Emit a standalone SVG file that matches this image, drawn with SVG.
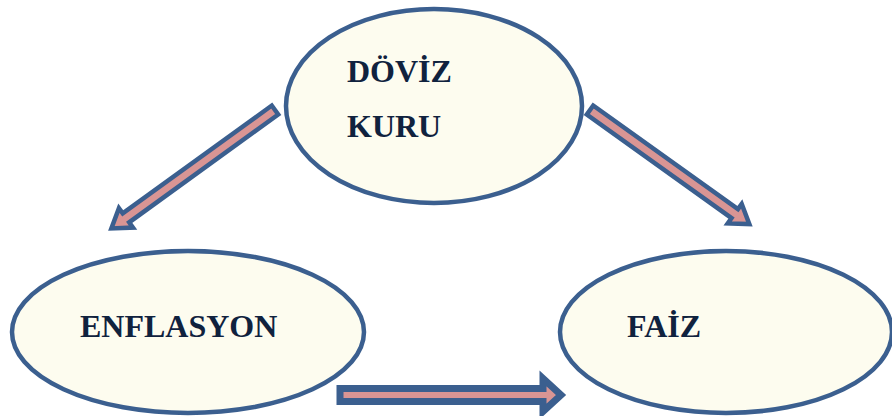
<svg xmlns="http://www.w3.org/2000/svg" width="892" height="416" viewBox="0 0 892 416">
<style>
.node{fill:#fdfcef;stroke:#3b5f8f;stroke-width:4.5}
.lbl{font-family:"Liberation Serif","Times New Roman",serif;font-weight:bold;font-size:32px;fill:#10223e}
.arr{fill:#d99594;stroke:#3b5f8f;stroke-linejoin:miter}
</style>
<rect width="892" height="416" fill="#ffffff"/>
<g id="connectors">
<polygon class="arr" stroke-width="4.5" transform="translate(275,110) rotate(144.1)" points="0,-5.5 184,-5.5 184,-12 202,0 184,12 184,5.5 0,5.5"/>
<polygon class="arr" stroke-width="4.5" transform="translate(590,110) rotate(35.6)" points="0,-5.5 178,-5.5 178,-12 196,0 178,12 178,5.5 0,5.5"/>
<polygon class="arr" stroke-width="7" points="340,388.5 543,388.5 543,378.5 561,395 543,411.5 543,401.5 340,401.5"/>
</g>
<g id="doviz-kuru">
<ellipse class="node" cx="434" cy="106" rx="148" ry="97"/>
<text class="lbl" x="347" y="82">DÖVİZ</text>
<text class="lbl" x="347" y="137">KURU</text>
</g>
<g id="enflasyon">
<ellipse class="node" cx="188" cy="332" rx="176" ry="81"/>
<text class="lbl" x="80" y="337">ENFLASYON</text>
</g>
<g id="faiz">
<ellipse class="node" cx="726" cy="332" rx="166" ry="81"/>
<text class="lbl" x="627" y="337">FAİZ</text>
</g>
</svg>
